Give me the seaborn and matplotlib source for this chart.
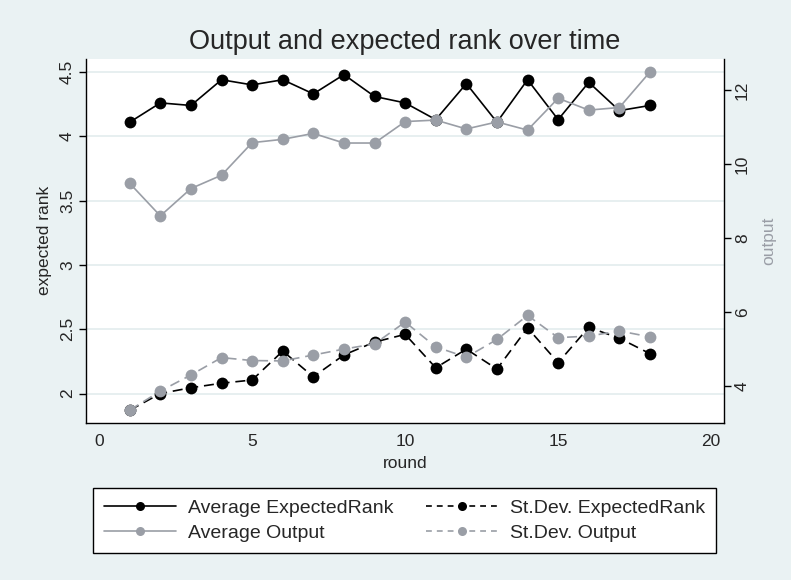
"""Output and expected rank over time (Stata-style dual-axis line chart)."""

import matplotlib

matplotlib.use("Agg")
import matplotlib.pyplot as plt
import seaborn as sns
from matplotlib.lines import Line2D

rounds = list(range(1, 19))
avg_expected_rank = [4.11, 4.26, 4.24, 4.44, 4.40, 4.44, 4.33, 4.48, 4.31,
                     4.26, 4.13, 4.41, 4.11, 4.44, 4.13, 4.42, 4.20, 4.24]
sd_expected_rank = [1.87, 2.00, 2.045, 2.08, 2.105, 2.33, 2.13, 2.30, 2.40,
                    2.46, 2.20, 2.345, 2.19, 2.51, 2.24, 2.515, 2.43, 2.31]
avg_output = [9.48, 8.60, 9.34, 9.70, 10.58, 10.67, 10.83, 10.57, 10.57,
              11.15, 11.19, 10.95, 11.14, 10.92, 11.78, 11.46, 11.53, 12.49]
sd_output = [3.35, 3.865, 4.30, 4.77, 4.69, 4.68, 4.84, 5.00, 5.14,
             5.73, 5.06, 4.78, 5.26, 5.91, 5.31, 5.35, 5.49, 5.33]

left_ticks = [2, 2.5, 3, 3.5, 4, 4.5]
left_tick_labels = ["2", "2.5", "3", "3.5", "4", "4.5"]
right_ticks = [4, 6, 8, 10, 12]
x_ticks = [0, 5, 10, 15, 20]

BG = "#eaf2f3"
GRID = "#e3ecee"
BLACK = "#000000"
GRAY = "#9a9ea6"

sns.set_style("white")
plt.rcParams["font.family"] = ["Liberation Sans", "DejaVu Sans"]

fig = plt.figure(figsize=(7.91, 5.8), dpi=100, facecolor=BG)
ax = fig.add_axes([0.1087, 0.2712, 0.8066, 0.627])
ax.set_facecolor("white")
ax2 = ax.twinx()

line_kw = dict(linewidth=1.2, marker="o", markersize=8.5, markeredgewidth=0)
dash = (0, (6, 3.5))

sns.lineplot(x=rounds, y=avg_expected_rank, ax=ax, color=BLACK,
             markeredgecolor=BLACK, **line_kw)
sns.lineplot(x=rounds, y=sd_expected_rank, ax=ax, color=BLACK,
             linestyle=dash, markeredgecolor=BLACK, **line_kw)
sns.lineplot(x=rounds, y=avg_output, ax=ax2, color=GRAY,
             markeredgecolor=GRAY, **line_kw)
sns.lineplot(x=rounds, y=sd_output, ax=ax2, color=GRAY,
             linestyle=dash, markeredgecolor=GRAY, **line_kw)

ax.set_xlim(-0.43, 20.42)
ax.set_ylim(1.773, 4.601)
ax2.set_ylim(3.01, 12.84)

ax.set_xticks(x_ticks)
ax.set_yticks(left_ticks)
ax.set_yticklabels(left_tick_labels, rotation=90, va="center")
ax2.set_yticks(right_ticks)
ax2.set_yticklabels([str(t) for t in right_ticks], rotation=90, va="center")

for a in (ax, ax2):
    a.tick_params(axis="both", direction="out", length=5, width=1,
                  color="black", labelsize=12.5, pad=3)
ax.yaxis.grid(True, color=GRID, linewidth=1.2)
ax.set_axisbelow(True)

ax.spines["top"].set_visible(False)
ax2.spines["top"].set_visible(False)
ax.spines["right"].set_visible(False)
ax2.spines["left"].set_visible(False)
ax2.spines["bottom"].set_visible(False)
for a, s in ((ax, "left"), (ax, "bottom"), (ax2, "right")):
    a.spines[s].set_color("black")
    a.spines[s].set_linewidth(1)

ax.set_xlabel("round", fontsize=12.5, labelpad=5)
ax.set_ylabel("expected rank", fontsize=12.5, labelpad=6)
ax2.set_ylabel("output", fontsize=12.5, color=GRAY, labelpad=8)

fig.text(0.511, 0.928, "Output and expected rank over time", ha="center",
         va="center", fontsize=19.5)

handle_kw = dict(lw=1.2, marker="o", markersize=6.5, markeredgewidth=0)
handles = [
    Line2D([], [], color=BLACK, **handle_kw),
    Line2D([], [], color=GRAY, **handle_kw),
    Line2D([], [], color=BLACK, ls=(0, (3.5, 3)), **handle_kw),
    Line2D([], [], color=GRAY, ls=(0, (3.5, 3)), **handle_kw),
]
labels = ["Average ExpectedRank", "Average Output",
          "St.Dev. ExpectedRank", "St.Dev. Output"]
leg = fig.legend(handles, labels, ncol=2, loc="center",
                 bbox_to_anchor=(0.5114, 0.1026), fontsize=14, frameon=True,
                 fancybox=False, edgecolor="black", facecolor="white",
                 framealpha=1, handlelength=3.75, handletextpad=0.6,
                 columnspacing=1.65, labelspacing=0.4, borderpad=0.55)
leg.get_frame().set_linewidth(1)

fig.savefig("out.png", dpi=100, facecolor=BG)
